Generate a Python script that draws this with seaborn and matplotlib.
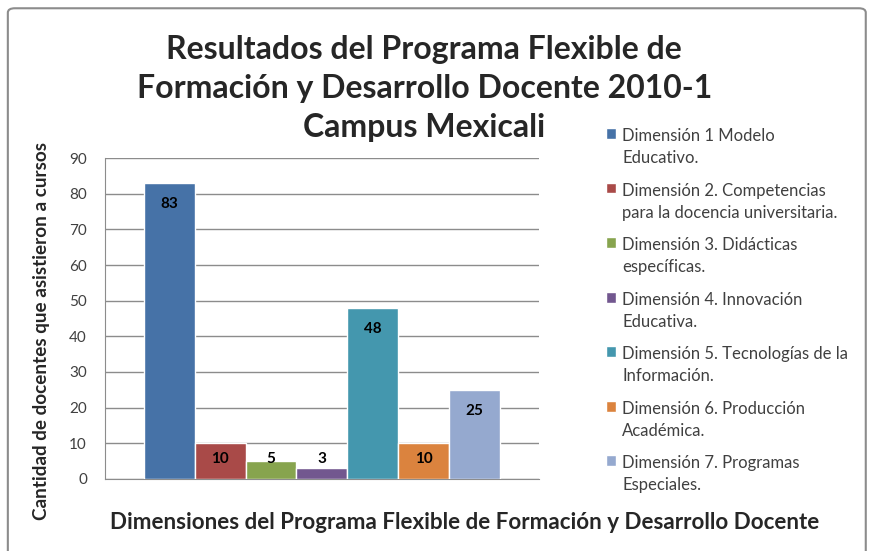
import pandas as pd
import seaborn as sns
import matplotlib.pyplot as plt
from matplotlib.patches import FancyBboxPatch, Patch

# Datos
dimensiones = [
    'Dimensión 1 Modelo\nEducativo.',
    'Dimensión 2. Competencias\npara la docencia universitaria.',
    'Dimensión 3. Didácticas\nespecíficas.',
    'Dimensión 4. Innovación\nEducativa.',
    'Dimensión 5. Tecnologías de la\nInformación.',
    'Dimensión 6. Producción\nAcadémica.',
    'Dimensión 7. Programas\nEspeciales.',
]
docentes = [83, 10, 5, 3, 48, 10, 25]
colores = ['#4672A7', '#A94A48', '#87A44E', '#72578F', '#4497AE', '#DB833E', '#95A9CF']
y_ticks = list(range(0, 100, 10))
titulo = ['Resultados del Programa Flexible de',
          'Formación y Desarrollo Docente 2010-1',
          'Campus Mexicali']

df = pd.DataFrame({'grupo': [''] * len(dimensiones), 'dimension': dimensiones, 'docentes': docentes})

sns.set_style('white')
plt.rcParams['font.family'] = ['Lato', 'DejaVu Sans']

fig = plt.figure(figsize=(8.71, 5.51), dpi=100)
ax = fig.add_axes([0.1205, 0.1307, 0.498, 0.5825])

sns.barplot(data=df, x='grupo', y='docentes', hue='dimension', palette=colores,
            width=0.82, saturation=1, dodge=True, legend=False, ax=ax, zorder=3)

ax.set_ylim(0, 90)
ax.set_xlim(-0.5, 0.5)
ax.set_yticks(y_ticks)
ax.tick_params(axis='y', labelsize=11, labelcolor='#404040', length=5, color='#8c8c8c', pad=8)
ax.tick_params(axis='x', length=0, labelbottom=False)
ax.yaxis.grid(True, color='#8c8c8c', linewidth=1)
ax.set_axisbelow(True)
for s in ['top', 'right']:
    ax.spines[s].set_visible(False)
for s in ['left', 'bottom']:
    ax.spines[s].set_color('#8c8c8c')
ax.set_xlabel('')
ax.set_ylabel('')

# etiquetas de valor
barras = [p for p in ax.patches if p.get_height() > 0]
for p, v in zip(sorted(barras, key=lambda b: b.get_x()), docentes):
    ax.text(p.get_x() + p.get_width() / 2, max(v - 6, 5.6), str(v),
            ha='center', va='center', fontsize=11, fontweight='bold', color='black', zorder=4)

# titulo en tres lineas
for i, linea in enumerate(titulo):
    fig.text(0.487, 0.911 - i * 0.0708, linea, ha='center', va='center',
             fontsize=23, fontweight='bold')

fig.text(0.048, 0.40, 'Cantidad de docentes que asistieron a cursos', rotation=90,
         ha='center', va='center', fontsize=13.6, fontweight='bold')

fig.text(0.533, 0.051, 'Dimensiones del Programa Flexible de Formación y Desarrollo Docente',
         ha='center', va='center', fontsize=16.1, fontweight='bold')

handles = [Patch(facecolor=c) for c in colores]
leg = fig.legend(handles, dimensiones, loc='upper left', bbox_to_anchor=(0.696, 0.767),
                 frameon=False, fontsize=12, handlelength=0.6, handleheight=0.6,
                 handletextpad=0.35, labelspacing=1.0, borderpad=0, borderaxespad=0,
                 labelcolor='#404040')
for t in leg.get_texts():
    t.set_linespacing(1.45)
# cuadro de color alineado con la primera linea
for columna in leg._legend_handle_box.get_children():
    for fila in columna.get_children():
        fila.align = 'top'

fig.patches.append(FancyBboxPatch((0.009, -0.02), 0.985, 1.005,
                                  boxstyle='round,pad=0,rounding_size=0.008',
                                  transform=fig.transFigure, fill=False,
                                  edgecolor='#8c8c8c', linewidth=1.5))

plt.savefig('out.png', dpi=100)
plt.close()
